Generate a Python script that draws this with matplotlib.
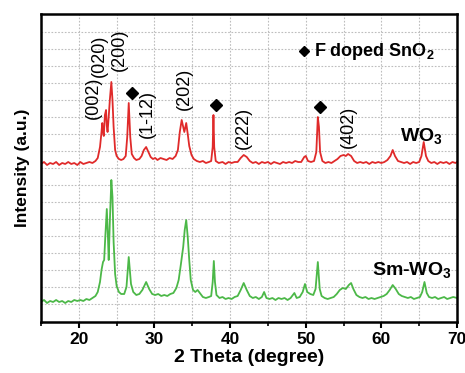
import matplotlib
matplotlib.use("Agg")
import matplotlib.pyplot as plt
import numpy as np

plt.rcParams['font.family'] = ['Liberation Sans', 'DejaVu Sans']
plt.rcParams['mathtext.fontset'] = 'custom'
plt.rcParams['mathtext.rm'] = 'Liberation Sans:bold'
plt.rcParams['mathtext.default'] = 'rm'

# WO3 pattern (offset, a.u.)
wo3_x = [15.0, 15.4, 15.8, 16.2, 16.6, 17.0, 17.4, 17.8, 18.2, 18.6, 19.0, 19.4, 19.8, 20.2, 20.6, 21.0,
         21.4, 21.8, 22.2, 22.5, 22.8, 23.0, 23.1, 23.2, 23.3, 23.45, 23.6, 23.7, 23.8, 23.95, 24.1, 24.3,
         24.45, 24.6, 24.8, 25.0, 25.3, 25.6, 25.9, 26.2, 26.4, 26.6, 26.8, 27.0, 27.3, 27.6, 28.0, 28.3,
         28.6, 28.9, 29.2, 29.5, 29.8, 30.1, 30.4, 30.8, 31.2, 31.6, 32.0, 32.4, 32.8, 33.1, 33.35, 33.6,
         33.8, 33.95, 34.2, 34.4, 34.6, 34.9, 35.2, 35.6, 36.0, 36.4, 36.8, 37.2, 37.5, 37.7, 37.8, 37.9,
         38.1, 38.5, 39.0, 39.4, 39.8, 40.2, 40.6, 41.0, 41.4, 41.8, 42.2, 42.6, 43.0, 43.4, 43.8, 44.2,
         44.6, 45.0, 45.4, 45.8, 46.2, 46.6, 47.0, 47.4, 47.8, 48.2, 48.6, 49.0, 49.4, 49.8, 50.0, 50.3,
         50.7, 51.1, 51.4, 51.6, 51.75, 51.9, 52.2, 52.6, 53.0, 53.4, 53.8, 54.2, 54.6, 55.0, 55.3, 55.6,
         56.0, 56.4, 56.8, 57.2, 57.6, 58.0, 58.4, 58.8, 59.2, 59.6, 60.0, 60.4, 60.8, 61.2, 61.5, 61.8,
         62.2, 62.6, 63.0, 63.4, 63.8, 64.2, 64.6, 65.0, 65.3, 65.6, 65.9, 66.2, 66.6, 67.0, 67.4, 67.8,
         68.2, 68.6, 69.0, 69.4, 69.8, 70.0]
wo3_y = [158, 160, 157, 159, 158, 160, 157, 159, 158, 160, 158, 159, 157, 160, 158, 159,
         160, 159, 161, 164, 175, 190, 199, 190, 186, 207, 212, 196, 190, 205, 222, 240,
         222, 195, 172, 166, 163, 162, 163, 166, 185, 219, 185, 168, 164, 162, 163, 166,
         172, 175, 170, 165, 163, 164, 162, 164, 163, 162, 164, 163, 166, 172, 190, 202,
         195, 190, 199, 188, 176, 167, 163, 161, 160, 161, 159, 160, 161, 175, 207, 175,
         161, 159, 160, 158, 160, 159, 160, 160, 164, 167, 165, 161, 159, 160, 158, 160,
         159, 160, 158, 160, 159, 158, 160, 159, 160, 159, 161, 160, 160, 165, 166, 161,
         160, 161, 170, 205, 195, 170, 161, 159, 160, 159, 161, 163, 166, 167, 166, 168,
         166, 161, 159, 160, 159, 160, 158, 160, 159, 160, 159, 160, 162, 166, 172, 166,
         161, 160, 159, 160, 158, 160, 159, 160, 166, 180, 166, 161, 159, 160, 158, 160,
         159, 160, 158, 160, 159, 160]

# Sm-WO3 pattern (a.u.)
sm_x = [15.0, 15.4, 15.8, 16.2, 16.6, 17.0, 17.4, 17.8, 18.2, 18.6, 19.0, 19.4, 19.8, 20.2, 20.6, 21.0,
        21.4, 21.8, 22.2, 22.5, 22.8, 23.0, 23.2, 23.35, 23.5, 23.7, 23.85, 23.95, 24.1, 24.3, 24.45, 24.6,
        24.8, 25.0, 25.3, 25.6, 26.0, 26.3, 26.6, 26.9, 27.2, 27.6, 28.0, 28.4, 28.9, 29.3, 29.7, 30.1,
        30.5, 30.9, 31.3, 31.7, 32.1, 32.5, 32.9, 33.2, 33.5, 33.8, 34.0, 34.2, 34.4, 34.6, 34.8, 35.1,
        35.4, 35.7, 36.0, 36.4, 36.8, 37.2, 37.5, 37.7, 37.85, 38.0, 38.2, 38.6, 39.0, 39.4, 39.8, 40.2,
        40.6, 41.0, 41.4, 41.8, 42.2, 42.6, 43.0, 43.4, 43.8, 44.2, 44.5, 44.8, 45.2, 45.6, 46.0, 46.4,
        46.8, 47.2, 47.6, 48.0, 48.5, 48.8, 49.2, 49.6, 49.9, 50.2, 50.6, 51.0, 51.3, 51.6, 51.85, 52.1,
        52.5, 52.9, 53.3, 53.7, 54.1, 54.5, 54.9, 55.3, 55.7, 56.0, 56.3, 56.7, 57.1, 57.5, 57.9, 58.3,
        58.7, 59.1, 59.5, 59.9, 60.3, 60.7, 61.1, 61.5, 61.9, 62.3, 62.7, 63.1, 63.5, 63.9, 64.3, 64.7,
        65.1, 65.4, 65.7, 66.0, 66.3, 66.7, 67.1, 67.5, 67.9, 68.3, 68.7, 69.1, 69.5, 70.0]
sm_y = [20, 22, 19, 21, 20, 22, 20, 21, 19, 21, 20, 22, 21, 22, 21, 23,
        22, 24, 26, 30, 40, 52, 60, 62, 85, 113, 85, 62, 100, 142, 125, 80,
        48, 36, 30, 28, 28, 35, 65, 38, 30, 27, 28, 32, 40, 33, 28, 27,
        28, 26, 27, 26, 28, 29, 34, 42, 58, 75, 92, 102, 85, 62, 42, 32,
        30, 32, 29, 25, 24, 25, 26, 40, 61, 40, 27, 24, 25, 23, 24, 23,
        25, 26, 32, 39, 32, 26, 24, 25, 23, 25, 30, 24, 23, 24, 22, 24,
        23, 24, 22, 24, 29, 24, 25, 30, 38, 30, 28, 27, 33, 60, 33, 26,
        24, 23, 24, 25, 28, 32, 34, 33, 37, 39, 33, 27, 25, 24, 25, 23,
        24, 23, 24, 25, 26, 28, 32, 37, 33, 28, 26, 25, 24, 25, 23, 24,
        25, 30, 40, 29, 25, 24, 25, 23, 24, 25, 23, 24, 25, 24]

hkl_labels = ["(002)", "(020)", "(200)", "(1-12)", "(202)", "(222)", "(402)"]
hkl_x = [21.95, 22.75, 25.35, 29.0, 33.9, 41.7, 55.6]
hkl_y = [224, 266, 272, 208, 233, 194, 195]
sno2_x = [27.0, 38.1, 51.9]
sno2_y = [229, 217, 215]

fig = plt.figure(figsize=(4.65, 3.73), dpi=100)
ax = fig.add_axes([41/465, 51/373, 416/465, 308/373])

ax.plot(wo3_x, wo3_y, color='#e02a2a', lw=1.3)
ax.plot(sm_x, sm_y, color='#4cb848', lw=1.3)

ax.set_xlim(15, 70)
ax.set_ylim(0, 308)
ax.set_xticks([20, 30, 40, 50, 60, 70])
ax.set_xticks([15, 25, 35, 45, 55, 65], minor=True)
ax.set_yticks(np.arange(18, 300, 17))
ax.tick_params(axis='y', left=False, labelleft=False)
ax.tick_params(axis='x', which='major', direction='out', length=4, width=1.5, pad=3)
ax.tick_params(axis='x', which='minor', direction='out', length=3, width=1.2)
for lbl in ax.get_xticklabels():
    lbl.set_fontweight('bold')
    lbl.set_fontsize(12.5)
for s in ax.spines.values():
    s.set_linewidth(1.8)

ax.grid(True, which='both', axis='x', color='#bdbdbd', ls=(0, (1.5, 1.5)), lw=0.8)
ax.grid(True, which='major', axis='y', color='#bdbdbd', ls=(0, (1.5, 1.5)), lw=0.8)
ax.set_axisbelow(True)

ax.set_xlabel("2 Theta (degree)", fontsize=14, fontweight='bold', labelpad=2)
ax.set_ylabel("Intensity (a.u.)", fontsize=12.5, fontweight='bold', labelpad=8)

for t, x, y in zip(hkl_labels, hkl_x, hkl_y):
    ax.text(x, y, t, rotation=90, ha='center', va='center', fontsize=13)
ax.plot(sno2_x, sno2_y, ls='none', marker='D', color='black', ms=6)

ax.plot([49.8], [271], ls='none', marker='D', color='black', ms=5.5)
ax.text(51.1, 271, "F doped SnO$_2$", ha='left', va='center', fontsize=13, fontweight='bold')
ax.text(62.4, 186, "WO$_3$", ha='left', va='center', fontsize=14, fontweight='bold')
ax.text(58.8, 52, "Sm-WO$_3$", ha='left', va='center', fontsize=14, fontweight='bold')

fig.savefig("out.png", dpi=100)
